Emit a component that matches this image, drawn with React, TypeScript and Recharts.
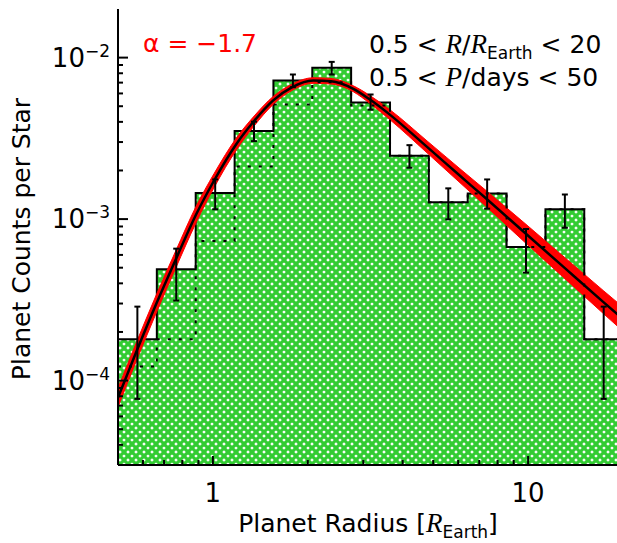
import React from 'react';
import { ComposedChart, Area, Line, Scatter, ErrorBar, XAxis, YAxis } from 'recharts';

// ---- data ----
const binEdges = [0.5, 0.664, 0.882, 1.172, 1.556, 2.067, 2.745, 3.647, 4.843, 6.433, 8.545, 11.35, 15.07, 20.0];
const binCenters = [0.576, 0.765, 1.017, 1.35, 1.794, 2.382, 3.164, 4.203, 5.582, 7.414, 9.848, 13.08, 17.37];
const countsAll = [1.8e-4, 4.89e-4, 1.45e-3, 3.51e-3, 7.21e-3, 8.64e-3, 5.28e-3, 2.47e-3, 1.27e-3, 1.44e-3, 6.72e-4, 1.15e-3, 1.8e-4];
const errLow = [7.7e-5, 3.13e-4, 1.15e-3, 3.04e-3, 6.56e-3, 7.86e-3, 4.76e-3, 2.08e-3, 9.96e-4, 1.16e-3, 4.66e-4, 8.84e-4, 7.7e-5];
const errHigh = [2.87e-4, 6.56e-4, 1.76e-3, 4.01e-3, 7.86e-3, 9.41e-3, 5.91e-3, 2.87e-3, 1.55e-3, 1.76e-3, 8.68e-4, 1.42e-3, 2.87e-4];
const countsRaw = [1.22e-4, 1.8e-4, 7.31e-4, 2.12e-3, 5.13e-3, 7.04e-3, 5.06e-3, 2.47e-3, 1.27e-3, 1.44e-3, 6.72e-4, 1.15e-3, 1.8e-4];

const fitRadius = [0.5, 0.575, 0.663, 0.763, 0.883, 1.01, 1.189, 1.343, 1.554, 1.785, 2.08, 2.37, 2.79, 3.15, 3.65, 4.78, 6.08, 7.36, 9.78, 13.0, 17.3, 20.0];
const fitMedian = [7.85e-5, 1.55e-4, 3.02e-4, 5.64e-4, 1.06e-3, 1.74e-3, 2.93e-3, 3.99e-3, 5.43e-3, 6.56e-3, 7.21e-3, 7.14e-3, 6.41e-3, 5.5e-3, 4.42e-3, 2.8e-3, 1.855e-3, 1.34e-3, 8.2e-4, 5.02e-4, 3.07e-4, 2.4e-4];
const fitLow = [6.858e-5, 1.36e-4, 2.657e-4, 4.991e-4, 9.434e-4, 1.575e-3, 2.691e-3, 3.716e-3, 5.13e-3, 6.269e-3, 6.929e-3, 6.861e-3, 6.142e-3, 5.196e-3, 4.117e-3, 2.571e-3, 1.679e-3, 1.196e-3, 7.164e-4, 4.324e-4, 2.607e-4, 2.023e-4];
const fitHigh = [8.985e-5, 1.767e-4, 3.432e-4, 6.373e-4, 1.191e-3, 1.922e-3, 3.191e-3, 4.284e-3, 5.748e-3, 6.865e-3, 7.503e-3, 7.43e-3, 6.69e-3, 5.822e-3, 4.745e-3, 3.049e-3, 2.049e-3, 1.501e-3, 9.386e-4, 5.828e-4, 3.615e-4, 2.847e-4];

const xDomain = [0.5, 20];
const yDomain = [3e-5, 0.02];
const xTicks = [0.6, 0.7, 0.8, 0.9, 1, 2, 3, 4, 5, 6, 7, 8, 9, 10, 20];
const xTickLabels = [1, 10];
const yTicks = [
  3e-5, 4e-5, 5e-5, 6e-5, 7e-5, 8e-5, 9e-5,
  1e-4, 2e-4, 3e-4, 4e-4, 5e-4, 6e-4, 7e-4, 8e-4, 9e-4,
  1e-3, 2e-3, 3e-3, 4e-3, 5e-3, 6e-3, 7e-3, 8e-3, 9e-3,
  1e-2,
];
const yMajorTicks = [1e-4, 1e-3, 1e-2];
const yMajorExp = ['\u22124', '\u22123', '\u22122'];

// ---- tables built from the arrays ----
const histRows = binEdges.map((x, i) => ({
  x,
  all: countsAll[Math.min(i, countsAll.length - 1)],
  raw: countsRaw[Math.min(i, countsRaw.length - 1)],
}));
const errRows = binCenters.map((x, i) => ({
  x,
  y: countsAll[i],
  err: [countsAll[i] - errLow[i], errHigh[i] - countsAll[i]],
}));
const fitRows = fitRadius.map((x, i) => ({
  x,
  median: fitMedian[i],
  band: [fitLow[i], fitHigh[i]],
}));

// ---- layout ----
const W = 630;
const H = 543;
const MARGIN = { top: 9, right: 7, left: 0, bottom: 0 };
const Y_W = 118;
const X_H = 78;
const FONT = '"DejaVu Sans", sans-serif';
const SERIF = '"Liberation Serif", serif';

function XTick(props: any) {
  const { x, y, payload, side } = props;
  const v = payload.value;
  const major = xTickLabels.includes(v);
  const len = major ? 9 : 5;
  const dir = side === 'top' ? 1 : -1;
  return (
    <g>
      <line x1={x} x2={x} y1={y} y2={y + dir * len} stroke="#000" strokeWidth={2} />
      {side !== 'top' && major ? (
        <text x={x} y={y + 37} textAnchor="middle" fontFamily={FONT} fontSize={26} fill="#000">
          {String(v)}
        </text>
      ) : null}
    </g>
  );
}

function YTick(props: any) {
  const { x, y, payload, side } = props;
  const idx = yMajorTicks.indexOf(payload.value);
  const major = idx >= 0;
  const len = major ? 10 : 5;
  const dir = side === 'right' ? -1 : 1;
  return (
    <g>
      <line x1={x} x2={x + dir * len} y1={y} y2={y} stroke="#000" strokeWidth={2} />
      {side !== 'right' && major ? (
        <text x={x - 8} y={y + 9} textAnchor="end" fontFamily={FONT} fontSize={26} fill="#000">
          10
          <tspan dy={-10} fontSize={17}>{yMajorExp[idx]}</tspan>
        </text>
      ) : null}
    </g>
  );
}

function XTitle() {
  return (
    <g>
      <text x={368} y={532} textAnchor="middle" fontFamily={FONT} fontSize={25} fill="#000">
        {'Planet Radius ['}
        <tspan fontFamily={SERIF} fontStyle="italic" fontSize={27}>R</tspan>
        <tspan fontSize={17} dy={6}>Earth</tspan>
        <tspan dy={-6}>]</tspan>
      </text>
    </g>
  );
}

function YTitleAndNotes() {
  return (
    <g>
      <text
        x={30}
        y={239}
        transform="rotate(-90, 30, 239)"
        textAnchor="middle"
        fontFamily={FONT}
        fontSize={25}
        fill="#000"
      >
        Planet Counts per Star
      </text>
      <text x={143} y={52} fontFamily={FONT} fontSize={25} fill="#ff0000">
        {'\u03b1 = \u22121.7'}
      </text>
      <text x={369} y={53} fontFamily={FONT} fontSize={25} fill="#000">
        {'0.5 < '}
        <tspan fontFamily={SERIF} fontStyle="italic" fontSize={27}>R</tspan>
        <tspan>/</tspan>
        <tspan fontFamily={SERIF} fontStyle="italic" fontSize={27}>R</tspan>
        <tspan fontSize={17} dy={6}>Earth</tspan>
        <tspan dy={-6}>{' < 20'}</tspan>
      </text>
      <text x={369} y={86} fontFamily={FONT} fontSize={25} fill="#000">
        {'0.5 < '}
        <tspan fontFamily={SERIF} fontStyle="italic" fontSize={27}>P</tspan>
        <tspan>{'/days < 50'}</tspan>
      </text>
    </g>
  );
}

export default function App() {
  return (
    <div style={{ position: 'fixed', left: 0, top: 0, width: 617, height: 543, overflow: 'hidden', background: '#fff' }}>
      <ComposedChart width={W} height={H} margin={MARGIN}>
        <defs>
          <pattern id="hatch" patternUnits="userSpaceOnUse" width="8" height="8">
            <rect width="8" height="8" fill="#ffffff" />
            <path
              d="M0,0 L8,8 M0,8 L8,0 M-2,2 L2,-2 M6,10 L10,6 M-2,6 L2,10 M6,-2 L10,2"
              stroke="#33cc33"
              strokeWidth={3.2}
            />
          </pattern>
        </defs>
        <XAxis
          dataKey="x"
          type="number"
          scale="log"
          domain={xDomain}
          allowDataOverflow
          ticks={xTicks}
          interval={0}
          height={X_H}
          tickSize={0}
          tickMargin={0}
          tickLine={false}
          axisLine={{ stroke: '#000', strokeWidth: 2 }}
          tick={(p: any) => <XTick {...p} side="bottom" />}
          label={() => <XTitle />}
        />
        <XAxis
          xAxisId="top"
          orientation="top"
          dataKey="x"
          type="number"
          scale="log"
          domain={xDomain}
          allowDataOverflow
          ticks={xTicks}
          interval={0}
          height={0}
          tickSize={0}
          tickMargin={0}
          tickLine={false}
          axisLine={{ stroke: '#000', strokeWidth: 2 }}
          tick={(p: any) => <XTick {...p} side="top" />}
        />
        <YAxis
          type="number"
          scale="log"
          domain={yDomain}
          allowDataOverflow
          ticks={yTicks}
          interval={0}
          width={Y_W}
          tickSize={0}
          tickMargin={0}
          tickLine={false}
          axisLine={{ stroke: '#000', strokeWidth: 2 }}
          tick={(p: any) => <YTick {...p} side="left" />}
          label={() => <YTitleAndNotes />}
        />
        <YAxis
          yAxisId="right"
          orientation="right"
          type="number"
          scale="log"
          domain={yDomain}
          allowDataOverflow
          ticks={yTicks}
          interval={0}
          width={0}
          tickSize={0}
          tickMargin={0}
          tickLine={false}
          axisLine={{ stroke: '#000', strokeWidth: 2 }}
          tick={(p: any) => <YTick {...p} side="right" />}
        />
        <Area
          data={histRows}
          dataKey="all"
          type="stepAfter"
          baseValue={yDomain[0]}
          stroke="#000"
          strokeWidth={2}
          fill="url(#hatch)"
          fillOpacity={1}
          isAnimationActive={false}
          dot={false}
          activeDot={false}
        />
        <Area
          data={fitRows}
          dataKey="band"
          type="monotone"
          stroke="#ff0000"
          strokeWidth={1}
          fill="#ff0000"
          fillOpacity={1}
          isAnimationActive={false}
          dot={false}
          activeDot={false}
        />
        <Line
          data={histRows}
          dataKey="raw"
          type="stepAfter"
          stroke="#000"
          strokeWidth={2}
          strokeDasharray="3 8"
          dot={false}
          activeDot={false}
          isAnimationActive={false}
        />
        <Line
          data={fitRows}
          dataKey="median"
          type="monotone"
          stroke="#000"
          strokeWidth={2.5}
          dot={false}
          activeDot={false}
          isAnimationActive={false}
        />
        <Scatter data={errRows} dataKey="y" shape={() => <g />} isAnimationActive={false}>
          <ErrorBar dataKey="err" direction="y" width={3} stroke="#000" strokeWidth={2} isAnimationActive={false} />
        </Scatter>
      </ComposedChart>
    </div>
  );
}
